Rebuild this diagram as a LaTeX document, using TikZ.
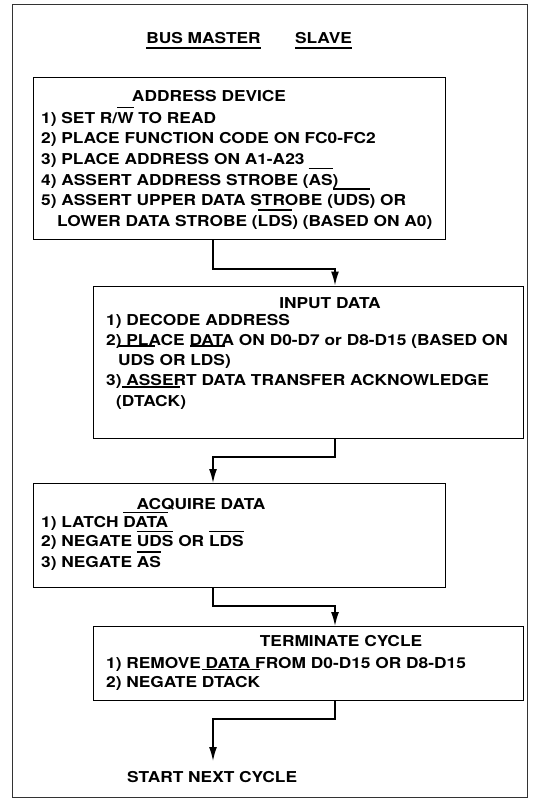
\documentclass[tikz,border=0pt]{standalone}
\usepackage{fontspec}
\setmainfont{TeX Gyre Heros}[FakeStretch=1.155]
\usepackage{tikz}
\usetikzlibrary{arrows.meta,positioning,calc}

\newcommand{\flowtxt}{\fontsize{15}{20}\selectfont\bfseries}
% active-low signal bar, raised a little as in the print
\newsavebox{\ovlbox}
\NewDocumentCommand{\ovl}{O{16pt} m}{\sbox{\ovlbox}{#2}\rlap{\rule[#1]{\wd\ovlbox}{1.2pt}}\usebox{\ovlbox}}
\newcommand{\hdrline}[1]{\sbox{\ovlbox}{#1}\rlap{\rule[-5pt]{\wd\ovlbox}{1.2pt}}\usebox{\ovlbox}}

\tikzset{
  flowbox/.style={draw, line width=1.1pt, inner sep=0pt, anchor=north west},
  flowtext/.style={anchor=base west, inner sep=0pt, font=\flowtxt},
  flowtitle/.style={anchor=base, inner sep=0pt, font=\flowtxt},
  flowarrow/.style={line width=1.5pt, -{Latex[length=14pt,width=8pt]}}
}

\begin{document}
\begin{tikzpicture}[x=1pt, y=-1pt]
    \useasboundingbox (0,0) rectangle (538,801);
    % Outer frame
    \draw[line width=0.9pt, black!80] (12,4) rectangle (527,797);

    % Column headings
    \node[flowtitle] (master) at (203.5,43.5) {\hdrline{BUS MASTER}};
    \node[flowtitle] (slave) at (323.5,43.5) {\hdrline{SLAVE}};
    \coordinate (lcol) at (213,0);
    \coordinate (rcol) at (335,0);

    % Address device (master)
    \node[flowbox, minimum width=412pt, minimum height=162pt] (addr) at (33,77) {};
    \node[flowtitle] (addr-t) at (209,101.5) {ADDRESS DEVICE};
    \node[flowtext] (addr-1) at (41,123) {1) SET R/\ovl[15pt]{W} TO READ};
    \node[flowtext] (addr-2) at (41,143.5) {2) PLACE FUNCTION CODE ON FC0-FC2};
    \node[flowtext] (addr-3) at (41,164.5) {3) PLACE ADDRESS ON A1-A23};
    \node[flowtext] (addr-4) at (41,185) {4) ASSERT ADDRESS STROBE (\ovl{AS})};
    \node[flowtext] (addr-5) at (41,205.5) {5) ASSERT UPPER DATA STROBE (\ovl{UDS}) OR};
    \node[flowtext] (addr-6) at (57,226.5) {LOWER DATA STROBE (\ovl{LDS}) (BASED ON A0)};

    % Input data (slave)
    \node[flowbox, minimum width=430pt, minimum height=152.5pt] (input) at (93,285.5) {};
    \node[flowtitle] (input-t) at (330,308.5) {INPUT DATA};
    \node[flowtext] (input-1) at (106,325) {1) DECODE ADDRESS};
    \node[flowtext] (input-2) at (106,345.5) {2) PLACE DATA ON D0-D7 or D8-D15 (BASED ON};
    \node[flowtext] (input-3) at (118,365) {\ovl[18.5pt]{UDS} OR \ovl[18.5pt]{LDS})};
    \node[flowtext] (input-4) at (106,385.5) {3) ASSERT DATA TRANSFER ACKNOWLEDGE};
    \node[flowtext] (input-5) at (116,406) {(\ovl[18.5pt]{DTACK})};

    % Acquire data (master)
    \node[flowbox, minimum width=412pt, minimum height=104pt] (acq) at (33,483) {};
    \node[flowtitle] (acq-t) at (201,509.5) {ACQUIRE DATA};
    \node[flowtext] (acq-1) at (41,527.5) {1) LATCH \ovl[14.5pt]{DATA}};
    \node[flowtext] (acq-2) at (41,546.5) {2) NEGATE \ovl[14.5pt]{UDS} OR \ovl[14.5pt]{LDS}};
    \node[flowtext] (acq-3) at (41,567) {3) NEGATE \ovl[14.5pt]{AS}};

    % Terminate cycle (slave)
    \node[flowbox, minimum width=430pt, minimum height=74pt] (term) at (93,626) {};
    \node[flowtitle] (term-t) at (341,646.5) {TERMINATE CYCLE};
    \node[flowtext] (term-1) at (106,668.5) {1) REMOVE DATA FROM D0-D15 OR D8-D15};
    \node[flowtext] (term-2) at (106,687.5) {2) NEGATE \ovl[17.5pt]{DTACK}};

    \node[flowtext, anchor=north west, inner ysep=10pt] (next) at (127,761) {START NEXT CYCLE};

    % Hand-offs between master and slave
    \draw[flowarrow] (addr.south -| lcol) -- ++(0,29) -| (input.north -| rcol);
    \draw[flowarrow] (input.south -| rcol) -- ++(0,18) -| (acq.north -| lcol);
    \draw[flowarrow] (acq.south -| lcol) -- ++(0,18) -| (term.north -| rcol);
    \draw[flowarrow] (term.south -| rcol) -- ++(0,18) -| (next.north -| lcol);
\end{tikzpicture}
\end{document}
